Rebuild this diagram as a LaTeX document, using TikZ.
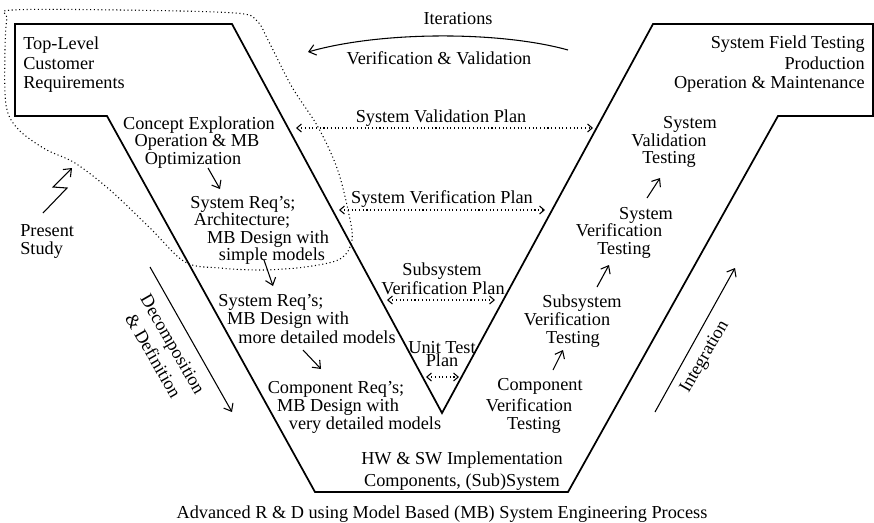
\documentclass[tikz,border=0pt]{standalone}
\usepackage{fontspec}
\setmainfont{Liberation Serif}
\usetikzlibrary{arrows.meta}

\tikzset{
  txt/.style={inner sep=0pt, text height=9pt, text depth=0pt, font=\fontsize{13.7}{14.3}\selectfont},
  rtxt/.style={inner sep=0pt, align=center, font=\fontsize{13.7}{17}\selectfont},
  vline/.style={line width=1.3pt, line join=miter},
  plan/.style={dotted, line width=0.8pt, {Straight Barb[length=3.5pt,width=6pt]}-{Straight Barb[length=3.5pt,width=6pt]}},
  flow/.style={line width=0.8pt, -{Straight Barb[length=5pt,width=8pt]}},
  study/.style={dotted, line width=0.8pt},
}

\begin{document}
\begin{tikzpicture}[x=0.75pt,y=-0.75pt]
\useasboundingbox (0,0) rectangle (874,522);

% the V
\draw[vline] (15,24) -- (232,24) -- (442,413) -- (653,24) -- (873,24) -- (873,116)
  -- (778,116) -- (568,492) -- (315,492) -- (107,116) -- (15,116) -- cycle;

% present study region
\draw[study] plot[smooth cycle, tension=0.55] coordinates {(12,10) (120,10) (235,13)
  (257,21) (268,40) (292,87) (318,127) (337,168) (348,210) (352,240) (340,259)
  (305,267) (262,270) (220,268) (185,262) (150,228) (110,190) (75,163) (45,149)
  (18,129) (6,105) (5,50) (7,18)};

% left side
\node[txt, anchor=west] (top1) at (23,43) {Top-Level};
\node[txt, anchor=west] (top2) at (23,63) {Customer};
\node[txt, anchor=west] (top3) at (23,82) {Requirements};

\node[txt] (ce1) at (199,123) {Concept Exploration};
\node[txt] (ce2) at (197,140) {Operation \& MB};
\node[txt] (ce3) at (193,158) {Optimization};

\node[txt] (sr1) at (243,202) {System Req's;};
\node[txt] (sr2) at (242,219) {Architecture;};
\node[txt] (sr3) at (268,237) {MB Design with};
\node[txt] (sr4) at (272,254) {simple models};

\node[txt] (md1) at (271,300) {System Req's;};
\node[txt] (md2) at (288,318) {MB Design with};
\node[txt] (md3) at (317,337) {more detailed models};

\node[txt] (cr1) at (336,387) {Component Req's;};
\node[txt] (cr2) at (338,405) {MB Design with};
\node[txt] (cr3) at (365,423) {very detailed models};

\node[txt] (hw1) at (462,458) {HW \& SW Implementation};
\node[txt] (hw2) at (462,480) {Components, (Sub)System};

\node[txt] (cap) at (442,512) {Advanced R \& D using Model Based (MB) System Engineering Process};

\node[txt, anchor=west] (ps1) at (20,230) {Present};
\node[txt, anchor=west] (ps2) at (20,248) {Study};

\node[rtxt, rotate=-60] (dec) at (163,350) {Decomposition\\\& Definition};

% right side
\node[txt, anchor=east] (fld1) at (865,42) {System Field Testing};
\node[txt, anchor=east] (fld2) at (865,63) {Production};
\node[txt, anchor=east] (fld3) at (865,82) {Operation \& Maintenance};

\node[txt] (svt1) at (690,122) {System};
\node[txt] (svt2) at (669,140) {Validation};
\node[txt] (svt3) at (669,157) {Testing};

\node[txt] (syt1) at (646,213) {System};
\node[txt] (syt2) at (619,230) {Verification};
\node[txt] (syt3) at (624,248) {Testing};

\node[txt] (sbt1) at (582,301) {Subsystem};
\node[txt] (sbt2) at (567,319) {Verification};
\node[txt] (sbt3) at (573,337) {Testing};

\node[txt] (cvt1) at (540,384) {Component};
\node[txt] (cvt2) at (529,405) {Verification};
\node[txt] (cvt3) at (534,423) {Testing};

\node[rtxt, rotate=60] (int) at (705,357) {Integration};

% middle
\node[txt] (iter) at (458,18) {Iterations};
\node[txt] (vv) at (439,58) {Verification \& Validation};
\node[txt] (svp) at (441,116) {System Validation Plan};
\node[txt] (sverp) at (442,197) {System Verification Plan};
\node[txt] (ssp1) at (442,269) {Subsystem};
\node[txt] (ssp2) at (443,288) {Verification Plan};
\node[txt] (utp1) at (442,347) {Unit Test};
\node[txt] (utp2) at (442,360) {Plan};

% arrow ends
\coordinate (it-r) at (568,50);
\coordinate (it-l) at (308,52);
\coordinate (svp-l) at (296,128);
\coordinate (svp-r) at (593,128);
\coordinate (sverp-l) at (339,210);
\coordinate (sverp-r) at (545,210);
\coordinate (ssp-l) at (387,300);
\coordinate (ssp-r) at (495,300);
\coordinate (utp-l) at (426,377);
\coordinate (utp-r) at (459,377);
\coordinate (dec-a) at (150,267);
\coordinate (dec-b) at (232,412);
\coordinate (int-a) at (655,412);
\coordinate (int-b) at (735,268);
\coordinate (bolt-a) at (43,213);
\coordinate (bolt-b) at (67,188);
\coordinate (bolt-c) at (53,187);
\coordinate (bolt-d) at (72,168);
\coordinate (ce-out) at (208,168);
\coordinate (sr-in) at (220,189);
\coordinate (sr-out) at (264,260);
\coordinate (md-in) at (273,286);
\coordinate (md-out) at (303,350);
\coordinate (cr-in) at (321,369);
\coordinate (cvt-out) at (553,370);
\coordinate (sbt-in) at (563,350);
\coordinate (sbt-out) at (597,287);
\coordinate (syt-in) at (609,265);
\coordinate (syt-out) at (647,198);
\coordinate (svt-in) at (660,178);

% connectors
\draw[flow] (it-r) .. controls (500,31) and (381,31) .. (it-l);
\draw[plan] (svp-l) -- (svp-r);
\draw[plan] (sverp-l) -- (sverp-r);
\draw[plan] (ssp-l) -- (ssp-r);
\draw[plan] (utp-l) -- (utp-r);
\draw[flow] (dec-a) -- (dec-b);
\draw[flow] (int-a) -- (int-b);
\draw[flow, line join=miter] (bolt-a) -- (bolt-b) -- (bolt-c) -- (bolt-d);

\draw[flow] (ce-out) -- (sr-in);
\draw[flow] (sr-out) -- (md-in);
\draw[flow] (md-out) -- (cr-in);
\draw[flow] (cvt-out) -- (sbt-in);
\draw[flow] (sbt-out) -- (syt-in);
\draw[flow] (syt-out) -- (svt-in);
\end{tikzpicture}
\end{document}
